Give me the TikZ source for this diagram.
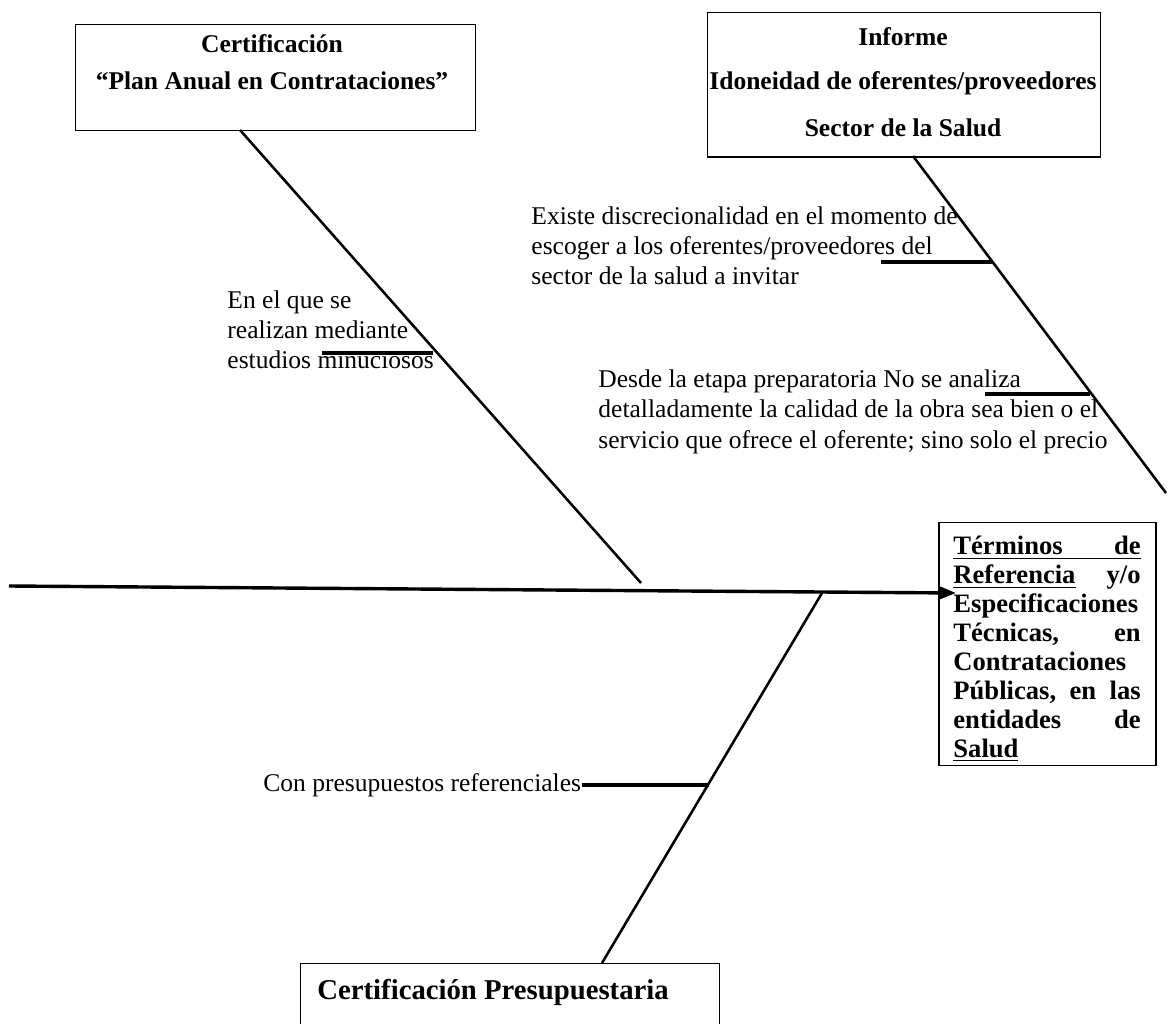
\documentclass[tikz,border=0pt]{standalone}
\usepackage{fontspec}
\setmainfont{Liberation Serif}
\usetikzlibrary{arrows.meta}
\newcommand\fullline[1]{\leavevmode\hbox to 88pt{#1}}
\begin{document}
\begin{tikzpicture}[x=0.47pt,y=-0.47pt,
  frame/.style={draw, line width=0.7pt, inner sep=0pt, anchor=north west},
  bone/.style={line width=1.2pt},
  spine/.style={line width=1.6pt},
  tick/.style={line width=1.5pt},
  note/.style={anchor=base west, align=left, inner sep=0pt, font=\fontsize{12}{14.2}\selectfont},
  head/.style={anchor=base, inner sep=0pt, font=\fontsize{12}{13.8}\selectfont\bfseries},
  rbtext/.style={anchor=north west, inner sep=0pt, text width=88pt, align=left, font=\fontsize{12.5}{13.6}\selectfont\bfseries},
]
\useasboundingbox (0,0) rectangle (1168,1024);

% boxes
\node[frame, minimum width=188pt, minimum height=49.8pt] (tl) at (75,24) {};
\node[head] (tl1) at (272,53) {Certificación};
\node[head] (tl2) at (272,90) {“Plan Anual en Contrataciones”};

\node[frame, minimum width=184.7pt, minimum height=67.7pt] (tr) at (707,12) {};
\node[head] (tr1) at (903,46) {Informe};
\node[head] (tr2) at (903,90) {Idoneidad de oferentes/proveedores};
\node[head] (tr3) at (903,137) {Sector de la Salud};

\node[frame, minimum width=196.9pt, minimum height=45pt] (bb) at (300,963) {};
\node[head, anchor=base west, font=\fontsize{13.5}{16}\selectfont\bfseries] (bb1) at (317,999) {Certificación Presupuestaria};

\node[frame, minimum width=102pt, minimum height=114.2pt] (rb) at (938,522) {};
\node[rbtext] (rbt) at (953,536)
{\underline{\hbox to 88pt{Términos\hfill de}}\\
 \fullline{\underline{Referencia}\hfill y/o}\\
 Especificaciones\\
 \fullline{Técnicas,\hfill en}\\
 Contrataciones\\
 \fullline{Públicas,\hfill en\hfill las}\\
 \fullline{entidades\hfill de}\\
 \underline{Salud}};

% spine and branches
\coordinate (tail) at (9,586);
\coordinate (tip) at (956,593);
\draw[spine, -{Triangle[length=8pt, width=6pt]}] (tail) -- (tip);

\coordinate (a0) at (240,130); \coordinate (a1) at (641,583);
\draw[bone] (a0) -- (a1);
\coordinate (b0) at (913,156); \coordinate (b1) at (1166,493);
\draw[bone] (b0) -- (b1);
\coordinate (c0) at (822,593); \coordinate (c1) at (602,963);
\draw[bone] (c0) -- (c1);

% ticks
\coordinate (t1a) at (322,353); \coordinate (t1b) at (433,353);
\draw[tick] (t1a) -- (t1b);
\coordinate (t2a) at (881,262); \coordinate (t2b) at (992,262);
\draw[tick] (t2a) -- (t2b);
\coordinate (t3a) at (985,394); \coordinate (t3b) at (1090,394);
\draw[tick] (t3a) -- (t3b);
\coordinate (t4a) at (582,785); \coordinate (t4b) at (709,785);
\draw[tick] (t4a) -- (t4b);

% notes (base anchor = baseline of the last line)
\node[note] (n1) at (227,369) {En el que se\\realizan mediante\\estudios minuciosos};
\node[note] (n2) at (531,285) {Existe discrecionalidad en el momento de\\escoger a los oferentes/proveedores del\\sector de la salud a invitar};
\node[note] (n3) at (598,448) {Desde la etapa preparatoria No se analiza\\detalladamente la calidad de la obra sea bien o el\\servicio que ofrece el oferente; sino solo el precio};
\node[note] (n4) at (263,791) {Con presupuestos referenciales};
\end{tikzpicture}
\end{document}
